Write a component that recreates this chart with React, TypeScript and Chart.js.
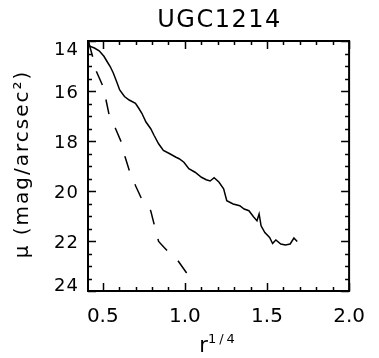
import React, { useEffect, useRef } from 'react';
import { Chart, registerables } from 'chart.js';

Chart.register(...registerables);

const TITLE = 'UGC1214';
const Y_TITLE = 'μ (mag/arcsec²)';
const X_TITLE_BASE = 'r';
const X_TITLE_SUP = '1/4';
const X_TICKS = [0.5, 1.0, 1.5, 2.0];
const Y_TICKS = [14, 16, 18, 20, 22, 24];
const X_MIN = 0.41;
const X_MAX = 2.0;
const Y_MIN = 14;
const Y_MAX = 24;

const solidX = [0.414, 0.42, 0.449, 0.478, 0.507, 0.526, 0.545, 0.564, 0.584, 0.603, 0.632, 0.661, 0.699, 0.719, 0.738, 0.763, 0.792, 0.812, 0.84, 0.869, 0.908, 0.946, 0.965, 0.994, 1.024, 1.062, 1.101, 1.13, 1.154, 1.178, 1.207, 1.236, 1.255, 1.294, 1.334, 1.361, 1.39, 1.419, 1.439, 1.452, 1.464, 1.487, 1.516, 1.534, 1.554, 1.584, 1.612, 1.641, 1.664, 1.684];
const solidY = [14.05, 14.21, 14.28, 14.39, 14.61, 14.82, 15.02, 15.28, 15.62, 15.96, 16.22, 16.36, 16.49, 16.69, 16.89, 17.24, 17.51, 17.77, 18.11, 18.38, 18.51, 18.65, 18.71, 18.85, 19.11, 19.25, 19.45, 19.55, 19.6, 19.47, 19.64, 19.91, 20.39, 20.52, 20.59, 20.72, 20.79, 21.04, 21.19, 20.92, 21.39, 21.66, 21.86, 22.1, 21.96, 22.12, 22.16, 22.12, 21.88, 22.02];

const dashX = [0.414, 0.439, 0.462, 0.501, 0.52, 0.539, 0.559, 0.578, 0.617, 0.636, 0.665, 0.699, 0.734, 0.764, 0.792, 0.815, 0.84, 0.874, 0.904, 0.956, 1.014];
const dashY = [14.05, 14.64, 15.23, 15.81, 16.37, 16.97, 17.24, 17.51, 18.11, 18.64, 19.25, 19.78, 20.28, 20.54, 20.79, 21.39, 22.02, 22.26, 22.46, 22.77, 23.31];

const FONT = '"DejaVu Sans", sans-serif';

const decorPlugin = {
  id: 'decor',
  afterDraw(chart: any) {
    const ctx = chart.ctx as CanvasRenderingContext2D;
    const { left, right, top, bottom } = chart.chartArea;
    const xs = chart.scales.x;
    const ys = chart.scales.y;
    ctx.save();
    ctx.strokeStyle = '#000';
    ctx.fillStyle = '#000';
    ctx.lineWidth = 2;
    ctx.strokeRect(left, top, right - left, bottom - top);

    ctx.lineWidth = 1.5;
    for (let i = 5; i <= 20; i++) {
      const v = i / 10;
      const px = Math.round(xs.getPixelForValue(v)) + 0.5;
      const len = i % 5 === 0 ? 8 : 4;
      ctx.beginPath();
      ctx.moveTo(px, bottom);
      ctx.lineTo(px, bottom - len);
      ctx.moveTo(px, top);
      ctx.lineTo(px, top + len);
      ctx.stroke();
    }
    for (let i = 0; i <= 20; i++) {
      const v = Y_MIN + i * 0.5;
      const py = Math.round(ys.getPixelForValue(v)) + 0.5;
      const len = i % 4 === 0 ? 8 : 4;
      ctx.beginPath();
      ctx.moveTo(left, py);
      ctx.lineTo(left + len, py);
      ctx.moveTo(right, py);
      ctx.lineTo(right - len, py);
      ctx.stroke();
    }

    ctx.font = `18px ${FONT}`;
    (ctx as any).letterSpacing = '1px';
    ctx.textAlign = 'right';
    ctx.textBaseline = 'middle';
    Y_TICKS.forEach((v, i) => {
      let py = ys.getPixelForValue(v) + 2.5;
      if (i === 0) py += 7;
      if (i === Y_TICKS.length - 1) py -= 7;
      ctx.fillText(String(v), left - 9, py);
    });

    ctx.font = `24px ${FONT}`;
    (ctx as any).letterSpacing = '1.5px';
    ctx.textAlign = 'center';
    ctx.textBaseline = 'alphabetic';
    ctx.fillText(TITLE, (left + right) / 2 + 1, 27);

    ctx.save();
    ctx.font = `20px ${FONT}`;
    (ctx as any).letterSpacing = '2px';
    ctx.translate(23, (top + bottom) / 2 - 2);
    ctx.rotate(-Math.PI / 2);
    ctx.textAlign = 'center';
    ctx.textBaseline = 'middle';
    ctx.fillText(Y_TITLE, 0, 0);
    ctx.restore();

    ctx.textAlign = 'left';
    ctx.textBaseline = 'alphabetic';
    ctx.font = `21px ${FONT}`;
    (ctx as any).letterSpacing = '0px';
    const baseW = ctx.measureText(X_TITLE_BASE).width;
    ctx.font = `13px ${FONT}`;
    (ctx as any).letterSpacing = '3px';
    const supW = ctx.measureText(X_TITLE_SUP).width;
    const startX = (left + right) / 2 - (baseW + supW) / 2;
    ctx.font = `21px ${FONT}`;
    (ctx as any).letterSpacing = '0px';
    ctx.fillText(X_TITLE_BASE, startX, 352);
    ctx.font = `13px ${FONT}`;
    (ctx as any).letterSpacing = '3px';
    ctx.fillText(X_TITLE_SUP, startX + baseW, 343);
    ctx.restore();
  },
};

export default function App() {
  const ref = useRef<HTMLCanvasElement | null>(null);
  useEffect(() => {
    if (!ref.current) return;
    const chart = new Chart(ref.current, {
      type: 'scatter',
      data: {
        datasets: [
          {
            data: solidX.map((x, i) => ({ x, y: solidY[i] })),
            showLine: true,
            borderColor: '#000',
            borderWidth: 1.5,
            pointRadius: 0,
            tension: 0,
          },
          {
            data: dashX.map((x, i) => ({ x, y: dashY[i] })),
            showLine: true,
            borderColor: '#000',
            borderWidth: 1.5,
            borderDash: [15, 15],
            pointRadius: 0,
            tension: 0,
          },
        ],
      },
      options: {
        animation: false,
        responsive: false,
        events: [],
        layout: { padding: { top: 41, right: 17, left: 0, bottom: 0 } },
        plugins: { legend: { display: false }, tooltip: { enabled: false }, title: { display: false } },
        scales: {
          x: {
            type: 'linear',
            min: X_MIN,
            max: X_MAX,
            grid: { display: false, drawTicks: false },
            border: { display: false },
            afterBuildTicks: (s: any) => {
              s.ticks = X_TICKS.map((v) => ({ value: v }));
            },
            afterFit: (s: any) => {
              s.height = 67;
            },
            ticks: {
              color: '#000',
              padding: 14,
              maxRotation: 0,
              autoSkip: false,
              font: { family: FONT, size: 20 },
              callback: (v: any) => Number(v).toFixed(1),
            },
          },
          y: {
            type: 'linear',
            reverse: true,
            min: Y_MIN,
            max: Y_MAX,
            grid: { display: false, drawTicks: false },
            border: { display: false },
            afterFit: (s: any) => {
              s.width = 88;
            },
            ticks: { display: false, stepSize: 2 },
          },
        },
      },
      plugins: [decorPlugin],
    });
    return () => chart.destroy();
  }, []);
  return (
    <div style={{ position: 'absolute', left: 0, top: 0, width: 379, height: 358, background: '#fff' }}>
      <canvas ref={ref} width={379} height={358} style={{ display: 'block' }} />
    </div>
  );
}
